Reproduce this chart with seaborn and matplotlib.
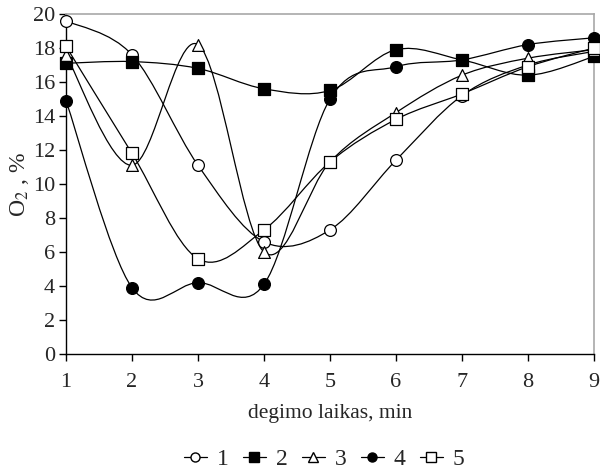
import numpy as np
import pandas as pd
import seaborn as sns
import matplotlib.pyplot as plt
from matplotlib.path import Path
from matplotlib.patches import PathPatch
from matplotlib.lines import Line2D

time_min = [1, 2, 3, 4, 5, 6, 7, 8, 9]
s1 = [19.6, 17.6, 11.1, 6.6, 7.3, 11.4, 15.2, 17.0, 17.8]
s2 = [17.1, 17.2, 16.8, 15.6, 15.5, 17.9, 17.3, 16.4, 17.5]
s3 = [17.6, 11.1, 18.2, 6.0, 11.3, 14.2, 16.4, 17.4, 17.9]
s4 = [14.9, 3.9, 4.2, 4.1, 15.0, 16.9, 17.3, 18.2, 18.6]
s5 = [18.1, 11.8, 5.6, 7.3, 11.3, 13.8, 15.3, 16.9, 18.0]
series_names = ["1", "2", "3", "4", "5"]

rows = []
for name, vals in zip(series_names, [s1, s2, s3, s4, s5]):
    for t, v in zip(time_min, vals):
        rows.append({"t": t, "o2": v, "serija": name})
df = pd.DataFrame(rows)

sns.set_style("white")
plt.rcParams["font.family"] = ["Liberation Serif", "DejaVu Serif"]
plt.rcParams["mathtext.fontset"] = "stix"

markers = {"1": "o", "2": "s", "3": "^", "4": "o", "5": "s"}
faces = {"1": "white", "2": "black", "3": "white", "4": "black", "5": "white"}


def smooth_path(x, y):
    # Excel-like smoothed line: cubic Bezier through the points
    x = np.asarray(x, float)
    y = np.asarray(y, float)
    px = np.concatenate([[x[0]], x, [x[-1]]])
    py = np.concatenate([[y[0]], y, [y[-1]]])
    verts = [(x[0], y[0])]
    codes = [Path.MOVETO]
    for i in range(1, len(x)):
        c1 = (px[i] + (px[i + 1] - px[i - 1]) / 6, py[i] + (py[i + 1] - py[i - 1]) / 6)
        c2 = (px[i + 1] - (px[i + 2] - px[i]) / 6, py[i + 1] - (py[i + 2] - py[i]) / 6)
        verts += [c1, c2, (px[i + 1], py[i + 1])]
        codes += [Path.CURVE4] * 3
    return Path(verts, codes)


fig = plt.figure(figsize=(6, 4.71), dpi=100)
ax = fig.add_axes([0.11, 0.2484, 0.88, 0.7219])

for name in series_names:
    sub = df[df["serija"] == name]
    ax.add_patch(PathPatch(smooth_path(sub["t"], sub["o2"]), facecolor="none",
                           edgecolor="black", lw=0.9, zorder=2))
    sns.scatterplot(data=sub, x="t", y="o2", marker=markers[name], s=72,
                    color=faces[name], edgecolor="black", linewidth=0.9,
                    ax=ax, zorder=3, legend=False, clip_on=False)

ax.set_xlim(1, 9)
ax.set_ylim(0, 20)
ax.set_xticks(time_min)
ax.set_yticks(range(0, 21, 2))
ax.tick_params(axis="both", labelsize=16, direction="out", length=5, width=1,
               color="black", left=True, bottom=True)
ax.tick_params(axis="x", pad=9)
ax.tick_params(axis="y", pad=3)
for side in ["left", "bottom"]:
    ax.spines[side].set_color("black")
    ax.spines[side].set_linewidth(1)
for side in ["top", "right"]:
    ax.spines[side].set_color("#a8a8a8")
    ax.spines[side].set_linewidth(1.2)
ax.set_xlabel("degimo laikas, min", fontsize=15.5, labelpad=8)
ax.set_ylabel(r"O$_2$ , %", fontsize=17, labelpad=1)

handles = [Line2D([], [], color="black", lw=0.9, marker=markers[n],
                  markerfacecolor=faces[n], markeredgecolor="black", markersize=6.5)
           for n in series_names]
fig.legend(handles, series_names, loc="center", bbox_to_anchor=(0.54, 0.024),
           ncol=5, frameon=False, fontsize=17, handlelength=1.0,
           handletextpad=0.4, columnspacing=0.6)

fig.savefig("out.png", dpi=100)
